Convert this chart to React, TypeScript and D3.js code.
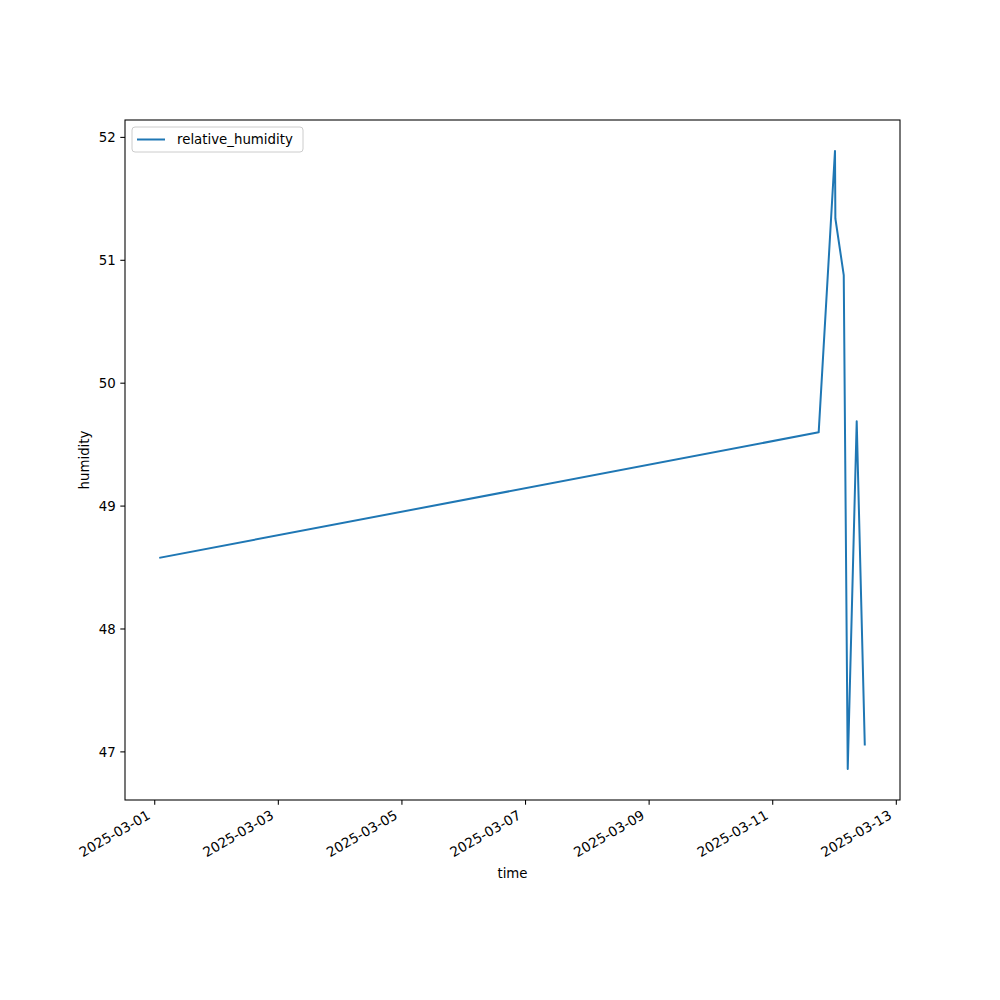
import React, { useEffect, useRef } from 'react';
import * as d3 from 'd3';

// readings
const times = [
  '2025-03-01T02:08:00Z',
  '2025-03-11T17:51:00Z',
  '2025-03-12T00:11:00Z',
  '2025-03-12T00:20:00Z',
  '2025-03-12T03:35:00Z',
  '2025-03-12T05:08:00Z',
  '2025-03-12T08:37:00Z',
  '2025-03-12T11:45:00Z',
];
const humidity = [48.58, 49.6, 51.89, 51.34, 50.88, 46.86, 49.69, 47.06];
const seriesName = 'relative_humidity';
const xTickDates = ['2025-03-01', '2025-03-03', '2025-03-05', '2025-03-07', '2025-03-09', '2025-03-11', '2025-03-13'];
const yTicks = [47, 48, 49, 50, 51, 52];

const App: React.FC = () => {
  const svgRef = useRef<SVGSVGElement>(null);

  useEffect(() => {
    document.body.style.margin = '0';
    if (!svgRef.current) return;
    const svg = d3.select(svgRef.current);
    svg.selectAll('*').remove();

    const width = 1000;
    const height = 1000;
    const margin = { top: 120, right: 100, bottom: 200, left: 125 };
    const innerWidth = width - margin.left - margin.right;
    const innerHeight = height - margin.top - margin.bottom;
    const font = 'DejaVu Sans, sans-serif';

    const parse = d3.utcParse('%Y-%m-%dT%H:%M:%SZ');
    const parseDay = d3.utcParse('%Y-%m-%d');
    const data = times.map((t, i) => ({ t: parse(t) as Date, v: humidity[i] }));

    // matplotlib style 5% padding
    const [t0, t1] = d3.extent(data, d => +d.t) as [number, number];
    const tPad = (t1 - t0) * 0.05;
    const [v0, v1] = d3.extent(data, d => d.v) as [number, number];
    const vPad = (v1 - v0) * 0.05;

    const x = d3.scaleUtc()
      .domain([new Date(t0 - tPad), new Date(t1 + tPad)])
      .range([0, innerWidth]);
    const y = d3.scaleLinear()
      .domain([v0 - vPad, v1 + vPad])
      .range([innerHeight, 0]);

    svg.append('rect').attr('width', width).attr('height', height).attr('fill', 'white');

    const g = svg.append('g').attr('transform', `translate(${margin.left}, ${margin.top})`);

    // line
    const line = d3.line<{ t: Date; v: number }>()
      .x(d => x(d.t))
      .y(d => y(d.v));
    g.append('path')
      .datum(data)
      .attr('fill', 'none')
      .attr('stroke', '#1f77b4')
      .attr('stroke-width', 2)
      .attr('stroke-linejoin', 'round')
      .attr('stroke-linecap', 'square')
      .attr('d', line);

    // frame
    g.append('rect')
      .attr('width', innerWidth)
      .attr('height', innerHeight)
      .attr('fill', 'none')
      .attr('stroke', 'black')
      .attr('stroke-width', 1.07);

    // x ticks
    xTickDates.forEach(s => {
      const d = parseDay(s) as Date;
      const px = x(d);
      g.append('line')
        .attr('x1', px).attr('x2', px)
        .attr('y1', innerHeight).attr('y2', innerHeight + 4.7)
        .attr('stroke', 'black').attr('stroke-width', 1.07);
      g.append('text')
        .attr('transform', `translate(${px - 3.5}, ${innerHeight + 18}) rotate(-30)`)
        .attr('text-anchor', 'end')
        .style('font-family', font)
        .style('font-size', '13.6px')
        .text(s);
    });

    // y ticks
    yTicks.forEach(v => {
      const py = y(v);
      g.append('line')
        .attr('x1', -4.7).attr('x2', 0)
        .attr('y1', py).attr('y2', py)
        .attr('stroke', 'black').attr('stroke-width', 1.07);
      g.append('text')
        .attr('x', -9.3)
        .attr('y', py)
        .attr('dy', '0.35em')
        .attr('text-anchor', 'end')
        .style('font-family', font)
        .style('font-size', '13.33px')
        .text(v);
    });

    // axis labels
    g.append('text')
      .attr('x', innerWidth / 2)
      .attr('y', innerHeight + 78)
      .attr('text-anchor', 'middle')
      .style('font-family', font)
      .style('font-size', '13.33px')
      .text('time');
    g.append('text')
      .attr('transform', `translate(${-36}, ${innerHeight / 2}) rotate(-90)`)
      .attr('text-anchor', 'middle')
      .style('font-family', font)
      .style('font-size', '13.33px')
      .text('humidity');

    // legend
    const lg = g.append('g').attr('transform', 'translate(7, 7)');
    lg.append('rect')
      .attr('width', 171)
      .attr('height', 25)
      .attr('rx', 3)
      .attr('fill', 'white')
      .attr('fill-opacity', 0.8)
      .attr('stroke', '#cccccc')
      .attr('stroke-width', 1);
    lg.append('line')
      .attr('x1', 5).attr('x2', 33)
      .attr('y1', 12.5).attr('y2', 12.5)
      .attr('stroke', '#1f77b4')
      .attr('stroke-width', 2);
    lg.append('text')
      .attr('x', 45)
      .attr('y', 12.5)
      .attr('dy', '0.35em')
      .style('font-family', font)
      .style('font-size', '13.33px')
      .text(seriesName);
  }, []);

  return <svg ref={svgRef} width={1000} height={1000} style={{ display: 'block' }} />;
};

export default App;
